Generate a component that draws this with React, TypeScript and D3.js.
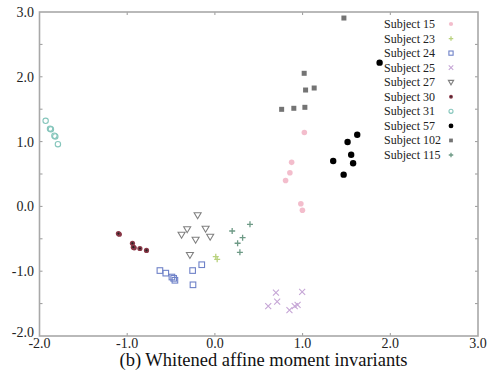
import React from "react";
import * as d3 from "d3";

const xTicks = [-2, -1, 0, 1, 2, 3];
const yTicks = [-2, -1, 0, 1, 2, 3];
const xTickLabels = ["-2.0", "-1.0", "0.0", "1.0", "2.0", "3.0"];
const yTickLabels = ["-2.0", "-1.0", "0.0", "1.0", "2.0", "3.0"];
const yMinorTicks = [-1.5, -0.5, 0.5, 1.5, 2.5];

const subjectNames = ["Subject 15", "Subject 23", "Subject 24", "Subject 25", "Subject 27", "Subject 30", "Subject 31", "Subject 57", "Subject 102", "Subject 115"];

const s15: [number, number][] = [[1.02, 1.14], [0.875, 0.68], [0.855, 0.52], [0.806, 0.4], [0.98, 0.04], [0.998, -0.06]];
const s23: [number, number][] = [[0.01, -0.776], [0.026, -0.816]];
const s24: [number, number][] = [[-0.627, -0.99], [-0.56, -1.03], [-0.49, -1.09], [-0.456, -1.14], [-0.47, -1.11], [-0.254, -0.99], [-0.15, -0.9], [-0.25, -1.21]];
const s25: [number, number][] = [[0.696, -1.33], [0.608, -1.54], [0.71, -1.47], [0.85, -1.6], [0.91, -1.54], [0.943, -1.52], [0.995, -1.32]];
const s27: [number, number][] = [[-0.197, -0.137], [-0.316, -0.353], [-0.38, -0.437], [-0.106, -0.344], [-0.22, -0.514], [-0.054, -0.468], [-0.285, -0.75]];
const s30: [number, number][] = [[-1.09, -0.43], [-1.1, -0.42], [-0.94, -0.57], [-0.92, -0.64], [-0.93, -0.63], [-0.855, -0.65], [-0.78, -0.68]];
const s31: [number, number][] = [[-1.93, 1.32], [-1.88, 1.2], [-1.87, 1.19], [-1.83, 1.09], [-1.82, 1.08], [-1.79, 0.96]];
const s57: [number, number][] = [[1.878, 2.218], [1.623, 1.106], [1.513, 0.994], [1.554, 0.798], [1.349, 0.7], [1.576, 0.667], [1.468, 0.49]];
const s102: [number, number][] = [[1.471, 2.907], [1.018, 2.054], [1.034, 1.796], [1.132, 1.827], [0.761, 1.498], [0.9, 1.514], [1.026, 1.529]];
const s115: [number, number][] = [[0.197, -0.38], [0.316, -0.483], [0.259, -0.569], [0.285, -0.708], [0.4, -0.276]];

const seriesData = [s15, s23, s24, s25, s27, s30, s31, s57, s102, s115];
const colors = ["#f2b6c6", "#b9d27e", "#6f82c8", "#c6a6d6", "#808080", "#8a3848", "#86c6bc", "#000000", "#747474", "#6e9a86"];
const markers = ["dot", "plus", "square", "x", "tri", "star", "circle", "bigdot", "fsquare", "plus"];

const W = 495, H = 372;
const x = d3.scaleLinear().domain([-2, 3]).range([39.5, 478]);
const y = d3.scaleLinear().domain([-2, 3]).range([336, 12]);

function Marker({ kind, cx, cy, color, k = 1 }: { kind: string; cx: number; cy: number; color: string; k?: number }) {
  switch (kind) {
    case "dot":
      return <circle cx={cx} cy={cy} r={2.8 * k} fill={color} opacity={0.9} />;
    case "bigdot":
      return <circle cx={cx} cy={cy} r={3.2 * k} fill={color} />;
    case "plus":
      return <path d={`M${cx - 3 * k},${cy}h${6 * k}M${cx},${cy - 3 * k}v${6 * k}`} stroke={color} strokeWidth={1.3} fill="none" />;
    case "x":
      return <path d={`M${cx - 3 * k},${cy - 3 * k}l${6 * k},${6 * k}M${cx - 3 * k},${cy + 3 * k}l${6 * k},${-6 * k}`} stroke={color} strokeWidth={1.1} fill="none" />;
    case "square":
      return <rect x={cx - 2.8 * k} y={cy - 2.8 * k} width={5.6 * k} height={5.6 * k} stroke={color} strokeWidth={1.1} fill="none" />;
    case "fsquare":
      return <rect x={cx - 2.5 * k} y={cy - 2.5 * k} width={5 * k} height={5 * k} fill={color} />;
    case "tri":
      return <path d={`M${cx - 3.5 * k},${cy - 2.5 * k}h${7 * k}l${-3.5 * k},${6 * k}z`} stroke={color} strokeWidth={1.1} fill="none" />;
    case "star":
      return (
        <g>
          <circle cx={cx} cy={cy} r={2.6 * k} fill={color} />
          <circle cx={cx} cy={cy} r={1.1 * k} fill="#222" />
        </g>
      );
    case "circle":
      return <circle cx={cx} cy={cy} r={2.7 * k} stroke={color} strokeWidth={1.1} fill="none" />;
    default:
      return null;
  }
}

export default function App() {
  const font = "'Liberation Serif', 'Times New Roman', serif";
  const legendY = d3.scaleLinear().domain([0, 9]).range([24, 155]);
  return (
    <svg width={W} height={H} style={{ position: "absolute", left: 0, top: 0, background: "#fff" }} fontFamily={font}>
      <rect x={0} y={0} width={W} height={H} fill="#fff" />
      {xTicks.slice(1, -1).map((t) => (
        <g key={"xt" + t} stroke="#999" strokeWidth={1}>
          <line x1={x(t)} x2={x(t)} y1={y(-2)} y2={y(-2) - 3} />
          <line x1={x(t)} x2={x(t)} y1={y(3)} y2={y(3) + 3} />
        </g>
      ))}
      {[...yTicks.slice(1, -1), ...yMinorTicks].map((t) => (
        <g key={"yt" + t} stroke="#999" strokeWidth={1}>
          <line x1={x(-2)} x2={x(-2) + 3} y1={y(t)} y2={y(t)} />
          <line x1={x(3)} x2={x(3) - 3} y1={y(t)} y2={y(t)} />
        </g>
      ))}
      <rect x={x(-2)} y={y(3)} width={x(3) - x(-2)} height={y(-2) - y(3)} fill="none" stroke="#a8a8a8" strokeWidth={1.6} />
      {xTicks.map((t, i) => (
        <text key={"xl" + t} x={x(t)} y={348} fontSize={14} textAnchor="middle" fill="#222">
          {xTickLabels[i]}
        </text>
      ))}
      {yTicks.map((t, i) => (
        <text key={"yl" + t} x={34} y={y(t) + (i === 0 ? 0.5 : 5)} fontSize={14} textAnchor="end" fill="#222">
          {yTickLabels[i]}
        </text>
      ))}
      {seriesData.map((pts, si) =>
        pts.map((p, j) => <Marker key={si + "-" + j} kind={markers[si]} cx={x(p[0])} cy={y(p[1])} color={colors[si]} />)
      )}
      {subjectNames.map((name, i) => (
        <g key={"lg" + i}>
          <text x={384} y={legendY(i) + 4} fontSize={12} fill="#222">
            {name}
          </text>
          <Marker kind={markers[i]} cx={451} cy={legendY(i)} color={colors[i]} k={0.75} />
        </g>
      ))}
      <text x={263.5} y={366} fontSize={18.5} textAnchor="middle" fill="#111">
        (b) Whitened affine moment invariants
      </text>
    </svg>
  );
}
